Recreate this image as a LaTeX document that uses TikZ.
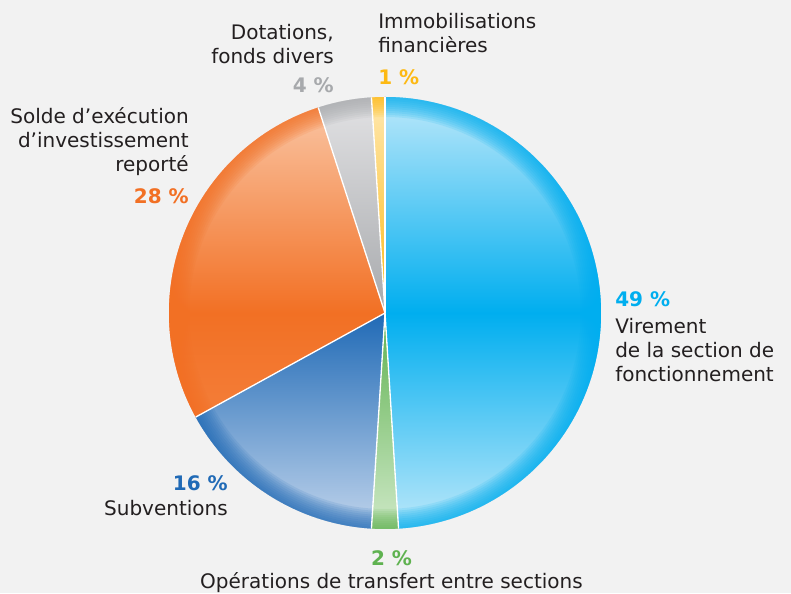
\documentclass[tikz,border=0pt]{standalone}
\usepackage{fontspec}
\setmainfont{DejaVu Sans}
\definecolor{paper}{RGB}{242,242,242}
\definecolor{ink}{RGB}{35,31,32}
\definecolor{virement}{RGB}{0,174,239}
\definecolor{virementlight}{RGB}{188,232,250}
\definecolor{transfert}{RGB}{95,178,80}
\definecolor{transfertlight}{RGB}{205,232,198}
\definecolor{subvention}{RGB}{32,106,182}
\definecolor{subventionlight}{RGB}{192,212,236}
\definecolor{solde}{RGB}{242,112,36}
\definecolor{soldelight}{RGB}{250,200,168}
\definecolor{dotation}{RGB}{167,169,172}
\definecolor{dotationlight}{RGB}{226,226,228}
\definecolor{immo}{RGB}{253,185,19}
\definecolor{immolight}{RGB}{255,232,176}

% slice: start angle, end angle, top, bottom, middle colour
\newcommand{\pieslice}[5]{%
  \begin{scope}
    \clip (c) -- ++(#1:216) arc[start angle=#1, end angle=#2, radius=216] -- cycle;
    \shade[top color=#3, bottom color=#4, middle color=#5] (c) circle (216);
    \foreach \k in {1,...,10}
      \draw[#5, opacity=0.13, line width=\k*3pt] (c) circle (216);
  \end{scope}}

\begin{document}
\begin{tikzpicture}[x=0.75pt, y=0.75pt, font=\fontsize{15}{18.2}\selectfont,
  label/.style={text=ink, inner sep=0pt},
  pct/.style={inner sep=0pt, font=\fontsize{15}{18}\selectfont\bfseries}]
\fill[paper] (0,0) rectangle (791,593);
\useasboundingbox (0,0) rectangle (791,593);
\coordinate (c) at (385,280);

% Slices
\pieslice{-86.4}{90}{virementlight}{virementlight}{virement}
\pieslice{-93.6}{-86.4}{transfertlight}{transfertlight}{transfert}
\pieslice{-151.2}{-93.6}{subventionlight}{subventionlight}{subvention}
\pieslice{108}{208.8}{soldelight}{solde!80!white}{solde}
\pieslice{93.6}{108}{dotationlight}{dotation}{dotation}
\pieslice{90}{93.6}{immolight}{immo}{immo}
\foreach \a in {90,93.6,108,208.8,266.4,273.6}
  \draw[white, line width=1pt] (c) -- ++(\a:216);

% Labels
\node(dotations)[label, anchor=base east, align=right] at (334,529.7) {Dotations,\\fonds divers};
\node(dotpct)[pct, text=dotation, anchor=base east] at (334,500) {4~\%};
\node(immobilisations)[label, anchor=base west, align=left] at (378,540.3) {Immobilisations\\financières};
\node(immopct)[pct, text=immo, anchor=base west] at (378,508) {1~\%};
\node(solde)[label, anchor=base east, align=right] at (189,421.3) {Solde d’exécution\\d’investissement\\reporté};
\node(soldepct)[pct, text=solde, anchor=base east] at (189,389) {28~\%};
\node(virpct)[pct, text=virement, anchor=base west] at (615,286.3) {49~\%};
\node(virement)[label, anchor=base west, align=left] at (615,211.3) {Virement\\de la section de\\fonctionnement};
\node(subvpct)[pct, text=subvention, anchor=base east] at (228,102.3) {16~\%};
\node(subventions)[label, anchor=base east] at (228,78) {Subventions};
\node(transpct)[pct, text=transfert, anchor=base] at (391.5,28) {2~\%};
\node(transfert)[label, anchor=base] at (391.5,5) {Opérations de transfert entre sections};
\end{tikzpicture}
\end{document}
